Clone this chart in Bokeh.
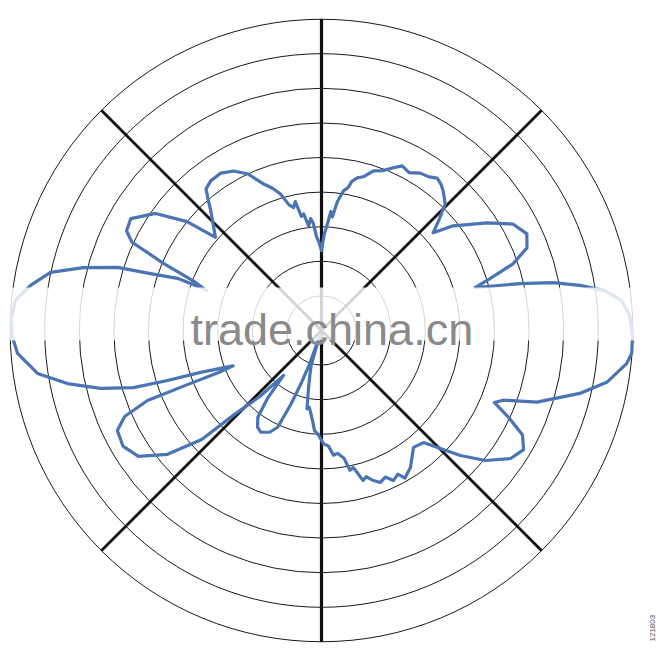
import numpy as np
from bokeh.plotting import figure
from bokeh.models import Range1d, BoxAnnotation, Label
from bokeh.embed import file_html
from bokeh.resources import INLINE

# ---- data -------------------------------------------------------------
ring_levels = [1, 2, 3, 4, 5, 6, 7, 8, 9]
spoke_angles_deg = [45, 135, 225, 315]

# polar pattern: angle clockwise from top (deg), radius in ring units
pattern_angle_deg = [
    0.0, 1.5, 3.2, 4.5, 5.5, 7.0, 8.9, 10.5, 11.5, 13.2, 15.5, 18.0, 21.0,
    23.8, 26.1, 29.0, 32.1, 35.0, 37.2, 39.2, 41.1, 44.3, 46.8, 48.8,
    51.5, 57.0, 60.9, 64.8, 68.1, 70.8, 73.2, 74.4,
    76.7, 78.3, 80.1, 82.0, 84.3, 87.2, 90.9, 94.2, 96.2, 100.3, 103.7,
    108.4, 111.0, 112.6,
    114.9, 117.4, 120.5, 124.1, 128.4, 132.0, 134.8, 137.7, 141.8,
    147.0, 150.5, 152.0, 154.4, 156.5, 158.8, 160.9, 163.0, 164.5, 166.9,
    168.5, 170.0, 172.6, 174.5, 176.5, 179.0, 182.2, 184.0, 185.7, 189.0,
    190.5, 192.8, 194.5, 196.6, 198.5,
    199.5, 201.0, 202.5, 204.4, 207.0, 210.9, 213.5, 216.3, 218.5, 220.2,
    223.0, 226.0, 227.7, 231.2, 235.5, 239.8, 243.9, 246.4, 248.1, 248.0,
    247.8, 248.2,
    250.9, 252.0, 253.1, 255.3, 258.2, 261.4, 265.7, 268.7, 272.2, 275.6,
    278.8, 282.1, 284.8, 287.2, 288.4, 289.9, 289.6, 289.2,
    291.2, 293.0, 295.0, 297.1, 300.4, 305.2, 309.0, 311.3,
    317.2, 319.4, 320.8, 323.5, 327.4, 331.2, 334.8, 338.5, 341.0, 343.3,
    345.5, 347.2, 348.5, 350.0, 351.3, 353.0, 354.5, 355.7, 357.0, 358.0,
    360.0,
]
pattern_level = [
    2.31, 2.75, 3.09, 3.45, 3.30, 3.75, 4.08, 4.20, 4.40, 4.53, 4.62, 4.85, 4.95,
    5.14, 5.30, 5.22, 5.37, 5.42, 5.53, 5.46, 5.35, 5.12, 4.65, 4.29,
    4.86, 5.71, 6.33, 6.56, 6.40, 5.86, 5.00, 4.61,
    5.89, 6.83, 7.58, 8.27, 8.72, 8.92, 8.99, 8.99, 8.87, 8.38, 7.68,
    6.56, 5.62, 5.41,
    5.96, 6.54, 6.78, 6.60, 6.05, 5.40, 4.84, 4.38, 4.30,
    4.72, 4.90, 4.70, 4.81, 4.62, 4.71, 4.59, 4.42, 4.50, 4.07,
    4.12, 3.75, 3.58, 3.62, 3.35, 3.27, 2.98, 2.90, 2.61, 2.25,
    2.30, 1.69, 1.35, 1.05, 0.15,
    1.00, 1.60, 2.30, 3.07, 3.30, 3.42, 3.35, 3.11, 2.50, 1.70,
    2.60, 3.48, 4.68, 5.71, 6.42, 6.64, 6.57, 6.21, 5.42, 4.08,
    3.21, 2.75,
    3.70, 4.68, 5.68, 6.60, 7.50, 8.30, 8.81, 8.93, 8.97, 8.89,
    8.51, 8.01, 7.12, 6.17, 5.21, 4.43, 3.71, 3.52,
    3.99, 4.95, 6.05, 6.33, 6.39, 5.87, 5.00, 4.08,
    4.71, 5.05, 5.28, 5.38, 5.40, 5.26, 5.00, 4.55, 4.35, 4.12,
    3.75, 3.64, 3.80, 3.35, 3.41, 3.05, 3.25, 3.09, 2.70, 2.60,
    2.31,
]

watermark_text = "trade.china.cn"
figure_id_text = "121803"

# ---- layout ------------------------------------------------------------
U = 34.6            # pixels per ring
W, H = 660, 654
CX, CY = 321, 330   # centre in figure pixels


def px_x(x_ref):
    return (x_ref - CX) / U


def px_y(y_ref):
    return (CY - y_ref) / U


p = figure(width=W, height=H, output_backend="svg", toolbar_location=None,
           x_range=Range1d(-CX / U, (W - CX) / U),
           y_range=Range1d(-(H - CY) / U, CY / U),
           x_axis_type=None, y_axis_type=None, min_border=0,
           outline_line_color=None, background_fill_color="white",
           border_fill_color="white")
p.grid.visible = False

R = ring_levels[-1]

# concentric rings
p.circle(x=[0] * len(ring_levels), y=[0] * len(ring_levels), radius=ring_levels,
         fill_color=None, line_color="#1a1a1a", line_width=1)

# vertical diameter
p.segment(x0=[0], y0=[-R], x1=[0], y1=[R], line_color="#111111", line_width=3.2)

# diagonal spokes
sa = np.radians(spoke_angles_deg)
p.segment(x0=[0] * len(sa), y0=[0] * len(sa), x1=list(R * np.sin(sa)),
          y1=list(R * np.cos(sa)), line_color="#111111", line_width=2.8)

# pattern curve
th = np.radians(pattern_angle_deg)
rr = np.array(pattern_level)
p.line(x=list(rr * np.sin(th)), y=list(rr * np.cos(th)), line_color="#4a74b4",
       line_width=3.2, line_join="round", line_cap="round")

# watermark band + text
band = BoxAnnotation(top=px_y(287), bottom=px_y(340), fill_color="white",
                     fill_alpha=0.82, line_color=None)
p.add_layout(band)

p.add_layout(Label(x=px_x(190), y=px_y(329), text=watermark_text,
                   text_font="Liberation Sans", text_font_size="45px",
                   text_color="#8a8a8a", text_baseline="alphabetic",
                   text_align="left"))

p.add_layout(Label(x=px_x(652), y=px_y(641), text=figure_id_text, angle=np.pi / 2,
                   text_font="Liberation Sans", text_font_size="8px",
                   text_color="#555555", text_baseline="middle",
                   text_align="left"))

open("out.html", "w").write(file_html(p, INLINE))
